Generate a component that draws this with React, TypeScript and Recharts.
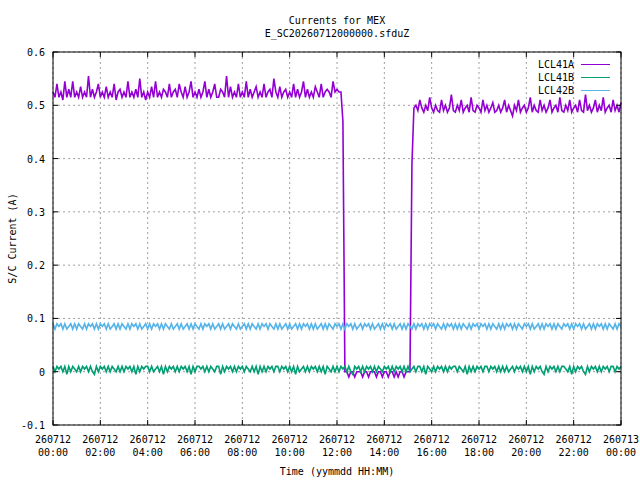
import { LineChart, Line, XAxis, YAxis, CartesianGrid, Legend } from 'recharts';

// samples every 5 minutes from 00:00 to 24:00, one row per hour
const lcl41a = [
  0.525, 0.515, 0.54, 0.515, 0.525, 0.51, 0.545, 0.515, 0.53, 0.515, 0.545, 0.515,
  0.525, 0.515, 0.535, 0.515, 0.525, 0.515, 0.555, 0.515, 0.53, 0.515, 0.525, 0.54,
  0.515, 0.525, 0.515, 0.535, 0.515, 0.525, 0.515, 0.54, 0.51, 0.525, 0.53, 0.515,
  0.525, 0.515, 0.545, 0.515, 0.525, 0.515, 0.53, 0.515, 0.55, 0.515, 0.525, 0.51,
  0.525, 0.515, 0.535, 0.515, 0.545, 0.515, 0.525, 0.515, 0.53, 0.525, 0.515, 0.54,
  0.515, 0.525, 0.53, 0.515, 0.54, 0.525, 0.515, 0.535, 0.515, 0.525, 0.545, 0.515,
  0.525, 0.515, 0.53, 0.515, 0.525, 0.545, 0.515, 0.53, 0.515, 0.525, 0.54, 0.515,
  0.515, 0.53, 0.525, 0.515, 0.555, 0.515, 0.535, 0.515, 0.525, 0.515, 0.54, 0.515,
  0.525, 0.515, 0.545, 0.515, 0.53, 0.515, 0.525, 0.535, 0.515, 0.525, 0.515, 0.54,
  0.515, 0.525, 0.53, 0.515, 0.55, 0.525, 0.515, 0.535, 0.515, 0.525, 0.53, 0.515,
  0.525, 0.515, 0.54, 0.515, 0.53, 0.515, 0.525, 0.545, 0.515, 0.53, 0.515, 0.525,
  0.515, 0.535, 0.525, 0.515, 0.54, 0.515, 0.525, 0.53, 0.525, 0.515, 0.545, 0.525,
  0.53, 0.525, 0.525, 0.47, 0, 0, -0.01, 0, 0, -0.01, 0, 0,
  0, -0.01, 0, 0, -0.01, 0, 0, 0, -0.01, 0, 0, -0.01,
  0, 0, -0.01, 0, 0, -0.01, 0, -0.01, 0, 0, -0.01, 0,
  0, 0, 0.39, 0.495, 0.5, 0.49, 0.51, 0.495, 0.487, 0.5, 0.49, 0.515,
  0.495, 0.487, 0.5, 0.49, 0.487, 0.51, 0.49, 0.5, 0.487, 0.495, 0.52, 0.49,
  0.487, 0.5, 0.49, 0.51, 0.487, 0.495, 0.5, 0.487, 0.515, 0.49, 0.487, 0.5,
  0.495, 0.487, 0.51, 0.49, 0.5, 0.487, 0.495, 0.505, 0.487, 0.49, 0.5, 0.487,
  0.495, 0.51, 0.487, 0.5, 0.49, 0.48, 0.5, 0.49, 0.51, 0.487, 0.495, 0.5,
  0.487, 0.495, 0.515, 0.487, 0.5, 0.49, 0.487, 0.51, 0.49, 0.5, 0.487, 0.495,
  0.51, 0.487, 0.495, 0.5, 0.487, 0.515, 0.49, 0.487, 0.5, 0.49, 0.51, 0.487,
  0.495, 0.5, 0.487, 0.51, 0.49, 0.487, 0.52, 0.49, 0.5, 0.487, 0.495, 0.51,
  0.487, 0.5, 0.49, 0.515, 0.487, 0.495, 0.5, 0.487, 0.51, 0.49, 0.5, 0.487,
  0.505,
];

const lcl41b = [
  0.01, 0, 0.01, 0.005, 0.01, 0, 0.01, -0.005, 0.01, 0, 0.01, 0.005,
  0, 0.01, 0, 0.01, 0.005, 0.01, 0, 0.01, 0, -0.005, 0.01, 0,
  0.01, 0.005, 0.01, 0, 0.01, 0, 0.01, 0.005, 0, 0.01, 0, 0.01,
  0, 0.01, 0.005, 0.01, 0, 0.01, -0.005, 0.01, 0, 0.01, 0.005, 0.01,
  0.01, 0, 0.01, 0, 0.005, 0.01, 0, 0.01, -0.005, 0.01, 0, 0.01,
  0.005, 0.01, 0, 0.01, 0, 0.01, 0.005, 0.01, 0, 0.01, -0.005, 0.01,
  0, 0.01, 0.01, 0.005, 0.01, 0, 0.01, 0, 0.01, 0.005, 0, 0.01,
  0.01, -0.005, 0.01, 0, 0.01, 0.005, 0.01, 0, 0.01, 0, 0.01, 0.005,
  0.01, 0, 0.01, 0.005, 0, 0.01, 0, 0.01, -0.005, 0.01, 0, 0.01,
  0, 0.01, 0.005, 0.01, 0, 0.01, 0.01, 0, 0.01, 0.005, 0.01, 0,
  0.01, 0, 0.01, -0.005, 0.01, 0, 0.005, 0.01, 0, 0.01, 0, 0.01,
  0.005, 0.01, 0, 0.01, 0, 0.01, -0.005, 0.01, 0.005, 0, 0.01, 0,
  0.01, 0, 0.01, 0.005, 0.01, 0, 0.01, 0, -0.005, 0.01, 0.005, 0.01,
  0, 0.01, 0, 0.01, 0.005, 0.01, 0, 0.01, 0, 0.01, 0.005, 0,
  0.01, 0.005, 0.01, 0, 0.01, 0, 0.01, 0.005, 0.01, 0, 0.01, 0,
  0.01, 0, 0.005, 0.01, 0, 0.01, 0.01, 0, 0.01, -0.005, 0.01, 0.005,
  0, 0.01, 0, 0.01, 0.005, 0.01, 0, 0.01, 0, 0.01, 0.005, 0.01,
  0.01, 0, 0.01, 0.005, 0, 0.01, -0.005, 0.01, 0, 0.01, 0, 0.01,
  0.005, 0.01, 0, 0.01, 0.01, 0, 0.01, 0.005, 0.01, 0, 0.01, 0,
  0.01, 0, 0.01, 0, 0.005, 0.01, 0, 0.01, 0.005, 0.01, 0, 0.01,
  0, 0.01, -0.005, 0.01, 0, 0.01, 0.005, 0.01, 0, -0.005, 0.01, 0,
  0.01, 0.005, 0.01, 0, 0.01, 0, 0.01, 0.01, 0.005, 0, 0.01, -0.005,
  0.01, 0, 0.01, 0.005, 0.01, 0, -0.005, 0.01, 0, 0.01, 0.005, 0.01,
  0, 0.01, 0, 0.01, 0.005, 0.01, 0, 0.01, 0.01, 0, 0.01, 0.005,
  0.01,
];

const lcl42b = [
  0.09, 0.08, 0.09, 0.085, 0.09, 0.08, 0.09, 0.08, 0.085, 0.09, 0.08, 0.09,
  0.08, 0.09, 0.085, 0.08, 0.09, 0.08, 0.09, 0.085, 0.09, 0.08, 0.09, 0.08,
  0.09, 0.085, 0.09, 0.08, 0.09, 0.08, 0.085, 0.09, 0.08, 0.09, 0.08, 0.09,
  0.085, 0.08, 0.09, 0.08, 0.09, 0.085, 0.09, 0.08, 0.09, 0.08, 0.085, 0.09,
  0.08, 0.09, 0.08, 0.09, 0.085, 0.09, 0.08, 0.09, 0.08, 0.09, 0.085, 0.08,
  0.09, 0.08, 0.085, 0.09, 0.08, 0.09, 0.08, 0.085, 0.09, 0.08, 0.09, 0.08,
  0.09, 0.085, 0.08, 0.09, 0.08, 0.09, 0.085, 0.09, 0.08, 0.09, 0.08, 0.085,
  0.09, 0.08, 0.09, 0.08, 0.085, 0.09, 0.08, 0.09, 0.085, 0.08, 0.09, 0.08,
  0.085, 0.09, 0.08, 0.09, 0.08, 0.09, 0.085, 0.08, 0.09, 0.08, 0.09, 0.085,
  0.09, 0.08, 0.09, 0.085, 0.08, 0.09, 0.08, 0.09, 0.08, 0.085, 0.09, 0.08,
  0.09, 0.08, 0.085, 0.09, 0.08, 0.09, 0.08, 0.09, 0.085, 0.09, 0.08, 0.09,
  0.08, 0.09, 0.08, 0.085, 0.09, 0.08, 0.09, 0.08, 0.09, 0.085, 0.08, 0.09,
  0.085, 0.09, 0.08, 0.09, 0.08, 0.09, 0.085, 0.09, 0.08, 0.09, 0.08, 0.085,
  0.09, 0.08, 0.09, 0.085, 0.09, 0.08, 0.09, 0.08, 0.085, 0.09, 0.08, 0.09,
  0.08, 0.09, 0.085, 0.09, 0.08, 0.09, 0.08, 0.085, 0.09, 0.08, 0.09, 0.08,
  0.09, 0.085, 0.08, 0.09, 0.08, 0.09, 0.085, 0.09, 0.08, 0.09, 0.08, 0.09,
  0.085, 0.09, 0.08, 0.09, 0.085, 0.08, 0.09, 0.08, 0.09, 0.085, 0.09, 0.08,
  0.09, 0.08, 0.09, 0.08, 0.09, 0.085, 0.08, 0.09, 0.08, 0.09, 0.085, 0.09,
  0.08, 0.09, 0.085, 0.09, 0.08, 0.09, 0.08, 0.09, 0.085, 0.08, 0.09, 0.08,
  0.09, 0.08, 0.09, 0.085, 0.09, 0.08, 0.09, 0.08, 0.09, 0.085, 0.08, 0.09,
  0.085, 0.09, 0.08, 0.09, 0.08, 0.085, 0.09, 0.08, 0.09, 0.08, 0.09, 0.085,
  0.09, 0.08, 0.09, 0.08, 0.09, 0.085, 0.08, 0.09, 0.085, 0.09, 0.08, 0.09,
  0.08, 0.09, 0.085, 0.09, 0.08, 0.09, 0.08, 0.085, 0.09, 0.08, 0.09, 0.08,
  0.09, 0.085, 0.09, 0.08, 0.09, 0.08, 0.09, 0.085, 0.08, 0.09, 0.08, 0.09,
  0.085,
];

const STEP_MIN = 5;

const xTicks = [0, 120, 240, 360, 480, 600, 720, 840, 960, 1080, 1200, 1320, 1440];
const xTickDates = ['260712', '260712', '260712', '260712', '260712', '260712', '260712',
  '260712', '260712', '260712', '260712', '260712', '260713'];
const xTickTimes = ['00:00', '02:00', '04:00', '06:00', '08:00', '10:00', '12:00',
  '14:00', '16:00', '18:00', '20:00', '22:00', '00:00'];
const yTicks = [-0.1, 0, 0.1, 0.2, 0.3, 0.4, 0.5, 0.6];
const yTickLabels = ['-0.1', '0', '0.1', '0.2', '0.3', '0.4', '0.5', '0.6'];

const seriesKeys = ['a', 'b', 'c'];
const seriesNames = ['LCL41A', 'LCL41B', 'LCL42B'];
const seriesColors = ['#9400d3', '#009e73', '#56b4e9'];

const data = lcl41a.map((v, i) => ({ t: i * STEP_MIN, a: v, b: lcl41b[i], c: lcl42b[i] }));

const FONT = '"DejaVu Sans Mono", "Liberation Mono", monospace';
const PLOT = { left: 53, right: 621, top: 52, bottom: 425 };

const XTick = ({ x, payload }: any) => {
  const i = xTicks.indexOf(payload.value);
  return (
    <g>
      <line x1={x} x2={x} y1={PLOT.bottom} y2={PLOT.bottom - 5} stroke="#000" />
      <line x1={x} x2={x} y1={PLOT.top} y2={PLOT.top + 5} stroke="#000" />
      <text x={x} y={PLOT.bottom + 18} textAnchor="middle" fontFamily={FONT} fontSize={10} fill="#000">
        {xTickDates[i]}
      </text>
      <text x={x} y={PLOT.bottom + 31} textAnchor="middle" fontFamily={FONT} fontSize={10} fill="#000">
        {xTickTimes[i]}
      </text>
    </g>
  );
};

const YTick = ({ y, payload }: any) => {
  const i = yTicks.findIndex((v) => Math.abs(v - payload.value) < 1e-9);
  return (
    <g>
      <line x1={PLOT.left} x2={PLOT.left + 5} y1={y} y2={y} stroke="#000" />
      <line x1={PLOT.right} x2={PLOT.right - 5} y1={y} y2={y} stroke="#000" />
      <text x={PLOT.left - 8} y={y + 4} textAnchor="end" fontFamily={FONT} fontSize={10} fill="#000">
        {yTickLabels[i]}
      </text>
    </g>
  );
};

const LegendBox = () => (
  <svg width={100} height={44}>
    {seriesNames.map((name, i) => (
      <g key={name}>
        <text x={54} y={8 + 13 * i + 4} textAnchor="end" fontFamily={FONT} fontSize={10} fill="#000">
          {name}
        </text>
        <line x1={61} x2={90} y1={8.5 + 13 * i} y2={8.5 + 13 * i} stroke={seriesColors[i]} strokeWidth={1} />
      </g>
    ))}
  </svg>
);

export default function App() {
  return (
    <div style={{ position: 'absolute', left: 0, top: 0, width: 640, height: 480, background: '#fff' }}>
      <LineChart
        width={640}
        height={480}
        data={data}
        margin={{ top: PLOT.top, right: 640 - PLOT.right, bottom: 0, left: 0 }}
      >
        <CartesianGrid stroke="#a0a0a0" strokeDasharray="2 3" />
        <XAxis
          dataKey="t"
          type="number"
          domain={[0, 1440]}
          ticks={xTicks}
          interval={0}
          height={480 - PLOT.bottom}
          axisLine={false}
          tickLine={false}
          tick={<XTick />}
        />
        <YAxis
          type="number"
          domain={[-0.1, 0.6]}
          ticks={yTicks}
          interval={0}
          width={PLOT.left}
          axisLine={false}
          tickLine={false}
          tick={<YTick />}
        />
        <Legend
          layout="horizontal"
          verticalAlign="middle"
          align="center"
          content={LegendBox}
          wrapperStyle={{ position: 'absolute', left: 520, top: 56, width: 100, height: 44 }}
        />
        {seriesKeys.map((k, i) => (
          <Line
            key={k}
            type="linear"
            dataKey={k}
            name={seriesNames[i]}
            stroke={seriesColors[i]}
            strokeWidth={1.6}
            dot={false}
            isAnimationActive={false}
          />
        ))}
      </LineChart>
      <svg
        width={640}
        height={480}
        style={{ position: 'absolute', left: 0, top: 0, pointerEvents: 'none' }}
      >
        <rect
          x={PLOT.left}
          y={PLOT.top}
          width={PLOT.right - PLOT.left}
          height={PLOT.bottom - PLOT.top}
          fill="none"
          stroke="#000"
        />
        <text x={337} y={24} textAnchor="middle" fontFamily={FONT} fontSize={10} fill="#000">
          Currents for MEX
        </text>
        <text x={337} y={37} textAnchor="middle" fontFamily={FONT} fontSize={10} fill="#000">
          E_SC20260712000000.sfduZ
        </text>
        <text x={337} y={475} textAnchor="middle" fontFamily={FONT} fontSize={10} fill="#000">
          Time (yymmdd HH:MM)
        </text>
        <text
          x={16}
          y={238.5}
          textAnchor="middle"
          fontFamily={FONT}
          fontSize={10}
          fill="#000"
          transform="rotate(-90 16 238.5)"
        >
          S/C Current (A)
        </text>
      </svg>
    </div>
  );
}
